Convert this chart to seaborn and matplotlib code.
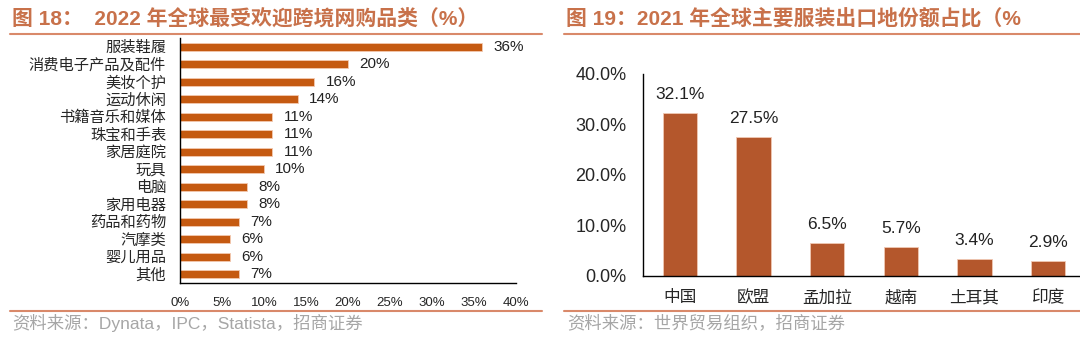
import matplotlib
matplotlib.use("Agg")
import matplotlib.pyplot as plt
from matplotlib.lines import Line2D
import seaborn as sns
import numpy as np

# ---- data ----
left_categories = ["服装鞋履", "消费电子产品及配件", "美妆个护", "运动休闲", "书籍音乐和媒体",
                   "珠宝和手表", "家居庭院", "玩具", "电脑", "家用电器", "药品和药物",
                   "汽摩类", "婴儿用品", "其他"]
left_values = [36, 20, 16, 14, 11, 11, 11, 10, 8, 8, 7, 6, 6, 7]
left_xticks = [0, 5, 10, 15, 20, 25, 30, 35, 40]

right_categories = ["中国", "欧盟", "孟加拉", "越南", "土耳其", "印度"]
right_values = [32.1, 27.5, 6.5, 5.7, 3.4, 2.9]
right_yticks = [0, 10, 20, 30, 40]

left_title = "图 18：  2022 年全球最受欢迎跨境网购品类（%）"
right_title = "图 19：2021 年全球主要服装出口地份额占比（%"
left_source = "资料来源：Dynata，IPC，Statista，招商证券"
right_source = "资料来源：世界贸易组织，招商证券"

sns.set_theme(style="white")
plt.rcParams['font.family'] = ['Liberation Sans', 'Noto Sans CJK SC', 'DejaVu Sans']
plt.rcParams['axes.unicode_minus'] = False

fig = plt.figure(figsize=(10.8, 3.43), dpi=100)
W, H = 1080, 343

def fx(px):
    return px / W

def fy(py):
    return 1 - py / H

title_color = "#c8714a"
line_color = "#d9896a"
src_color = "#a6a6a6"
left_bar = "#c55a11"
right_bar = "#b4572c"

# ---- left chart ----
axL = fig.add_axes([fx(180), fy(283), fx(516) - fx(180), fy(38) - fy(283)])
sns.barplot(x=left_values, y=left_categories, orient="h", color=left_bar,
            width=0.47, ax=axL, edgecolor="#f3c9b0", linewidth=0.6, saturation=1)
axL.set_xlim(0, 40)
axL.set_ylim(len(left_categories) - 0.5, -0.5)
axL.set_xticks(left_xticks)
axL.set_xticklabels([f"{v}%" for v in left_xticks], fontsize=9.5)
axL.set_yticks(range(len(left_categories)))
axL.set_yticklabels(left_categories, fontsize=11)
axL.set_yticks(np.arange(-0.5, len(left_categories), 1), minor=True)
axL.tick_params(axis="y", which="major", length=0, pad=10)
axL.tick_params(axis="y", which="minor", length=4, width=1, direction="out", color="black")
axL.tick_params(axis="x", which="major", length=4, width=1, direction="out", color="black", pad=6)
for s in ["top", "right"]:
    axL.spines[s].set_visible(False)
for s in ["left", "bottom"]:
    axL.spines[s].set_color("black")
    axL.spines[s].set_linewidth(1)
axL.bar_label(axL.containers[0], labels=[f"{v}%" for v in left_values],
              padding=8, fontsize=11, color="#222222")
axL.set_xlabel("")
axL.set_ylabel("")

# ---- right chart ----
axR = fig.add_axes([fx(643), fy(276), fx(1085) - fx(643), fy(73.5) - fy(276)])
sns.barplot(x=right_categories, y=right_values, color=right_bar, width=0.47,
            ax=axR, edgecolor="#f0c8b4", linewidth=0.6, saturation=1)
axR.set_ylim(0, 40)
axR.set_xlim(-0.5, len(right_categories) - 0.5)
axR.set_yticks(right_yticks)
axR.set_yticklabels([f"{v:.1f}%" for v in right_yticks], fontsize=13)
axR.set_xticks(range(len(right_categories)))
axR.set_xticklabels(right_categories, fontsize=12)
axR.set_xticks(np.arange(-0.5, len(right_categories), 1), minor=True)
axR.tick_params(axis="x", which="major", length=0, pad=10)
axR.tick_params(axis="x", which="minor", length=4, width=1, direction="out", color="black")
axR.tick_params(axis="y", which="major", length=4, width=1, direction="out", color="black", pad=8)
for s in ["top", "right"]:
    axR.spines[s].set_visible(False)
for s in ["left", "bottom"]:
    axR.spines[s].set_color("black")
    axR.spines[s].set_linewidth(1)
axR.bar_label(axR.containers[0], labels=[f"{v:.1f}%" for v in right_values],
              padding=8, fontsize=12.5, color="#222222")
axR.set_xlabel("")
axR.set_ylabel("")

# ---- titles, rules, sources ----
fig.text(fx(12), fy(19.5), left_title, fontsize=15, fontweight="bold",
         color=title_color, va="center", ha="left")
fig.text(fx(566), fy(19.5), right_title, fontsize=15, fontweight="bold",
         color=title_color, va="center", ha="left")

for (x0, x1) in [(10, 542), (564, 1080)]:
    for yy in [33.5, 310.5]:
        fig.add_artist(Line2D([fx(x0), fx(x1)], [fy(yy), fy(yy)], color=line_color,
                              linewidth=1.5, transform=fig.transFigure))

fig.text(fx(12), fy(323), left_source, fontsize=12.5, color=src_color, va="center", ha="left")
fig.text(fx(567), fy(323), right_source, fontsize=12.5, color=src_color, va="center", ha="left")

fig.savefig("out.png", dpi=100)
